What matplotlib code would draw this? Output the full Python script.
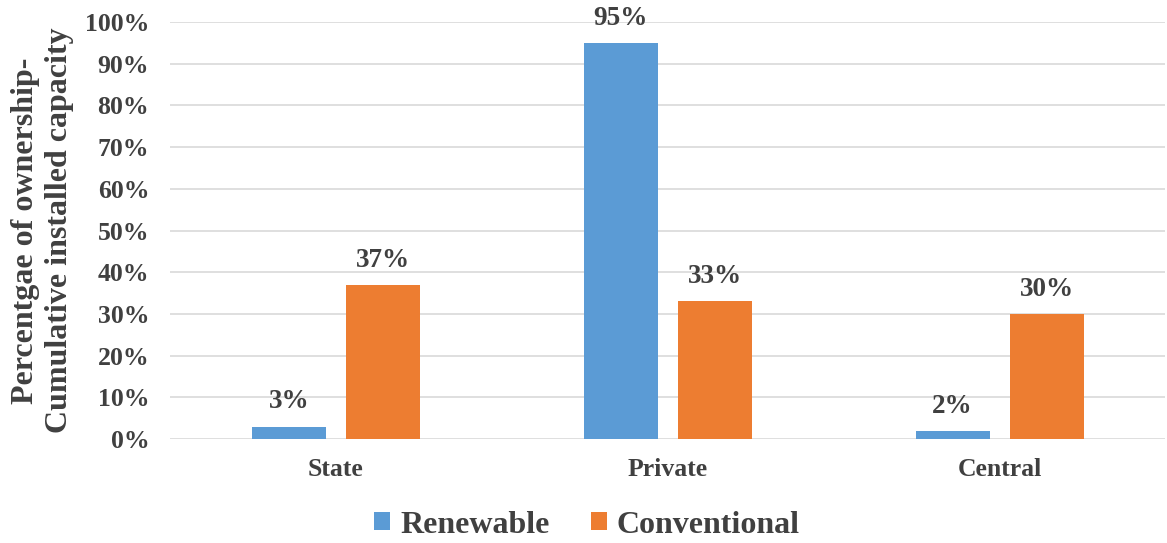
import matplotlib
matplotlib.use("Agg")
import matplotlib.pyplot as plt
import numpy as np
from matplotlib.ticker import PercentFormatter, MultipleLocator

categories = ["State", "Private", "Central"]
renewable = [3, 95, 2]
conventional = [37, 33, 30]
series_names = ["Renewable", "Conventional"]

BLUE = "#5B9BD5"
ORANGE = "#ED7D31"
TEXT = "#404040"
GRID = "#D9D9D9"

plt.rcParams["font.family"] = ["Liberation Serif", "DejaVu Serif"]
plt.rcParams["font.weight"] = "bold"

fig = plt.figure(figsize=(11.67, 5.43), dpi=100)
ax = fig.add_axes([0.1457, 0.1915, 0.853, 0.768])

x = np.arange(len(categories))
width = 0.223
offset = 0.1416
b1 = ax.bar(x - offset, renewable, width, color=BLUE, label=series_names[0], zorder=3)
b2 = ax.bar(x + offset, conventional, width, color=ORANGE, label=series_names[1], zorder=3)

for bars, vals in ((b1, renewable), (b2, conventional)):
    for bar, v in zip(bars, vals):
        ax.annotate(f"{v}%", (bar.get_x() + bar.get_width() / 2, v),
                    xytext=(0, 13), textcoords="offset points",
                    ha="center", va="baseline", fontsize=19.5,
                    fontweight="bold", color=TEXT)

ax.set_xlim(-0.5, 2.5)
ax.set_ylim(0, 100)
ax.yaxis.set_major_locator(MultipleLocator(10))
ax.yaxis.set_major_formatter(PercentFormatter(decimals=0))
ax.set_xticks(x)
ax.set_xticklabels(categories)
ax.tick_params(axis="both", length=0, labelsize=18.5, labelcolor=TEXT)
ax.tick_params(axis="y", pad=15)
ax.tick_params(axis="x", pad=14)
for lbl in ax.get_xticklabels() + ax.get_yticklabels():
    lbl.set_fontweight("bold")

ax.grid(axis="y", color=GRID, linewidth=1.2, zorder=0)
ax.set_axisbelow(True)
for s in ax.spines.values():
    s.set_visible(False)

ax.set_ylabel("Percentgae of ownership-\nCumulative installed capacity",
              fontsize=23, fontweight="bold", color=TEXT, labelpad=8,
              linespacing=1.2)

fig.legend(loc="center", bbox_to_anchor=(0.503, 0.033), ncol=2, frameon=False,
           prop={"size": 23, "weight": "bold"}, labelcolor=TEXT,
           handlelength=0.5, handleheight=0.5, handletextpad=0.3,
           columnspacing=1.3)

fig.savefig("out.png", dpi=100)
